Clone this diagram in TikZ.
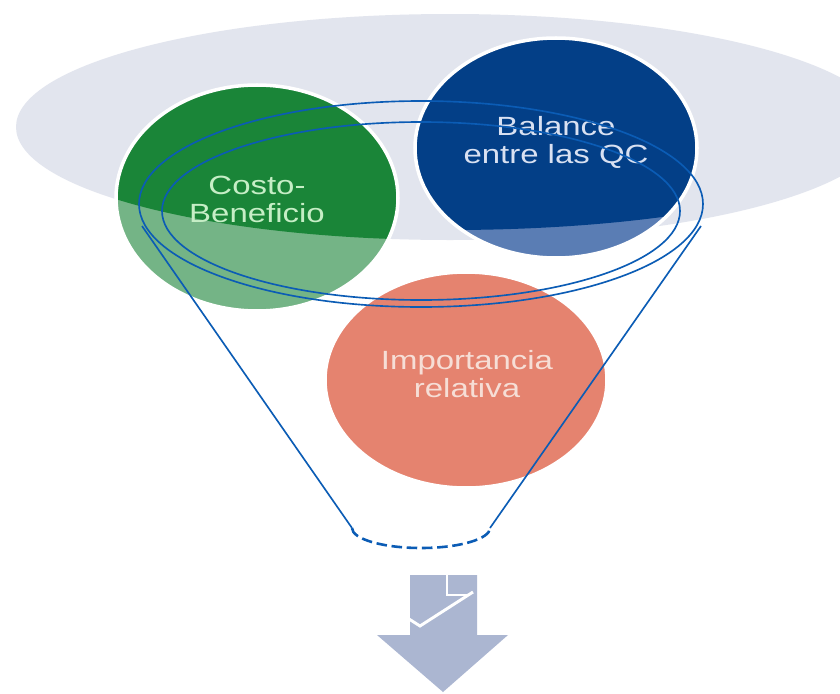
\documentclass[tikz,border=0pt]{standalone}
\usepackage{fontspec}
\newfontfamily\wide[FakeStretch=1.25]{Liberation Sans}
\definecolor{grayell}{HTML}{E2E5EE}
\definecolor{gdark}{HTML}{1A8538}
\definecolor{glight}{HTML}{74B486}
\definecolor{bdark}{HTML}{033F87}
\definecolor{blight}{HTML}{5A7DB4}
\definecolor{salmon}{HTML}{E5836F}
\definecolor{funnel}{HTML}{0B5CB5}
\definecolor{arrowc}{HTML}{ABB6D1}
\definecolor{gtext}{HTML}{C6EEC6}
\definecolor{btext}{HTML}{D9E1F2}
\definecolor{stext}{HTML}{F6DED6}
\tikzset{
  lbl/.style={align=center,font=\wide\fontsize{22.5pt}{24pt}\selectfont,inner sep=0pt},
  rim/.style={draw=white,line width=3pt},
  fun/.style={draw=funnel,line width=1.4pt},
}
\begin{document}
\begin{tikzpicture}[x=0.03cm,y=-0.03cm]
\useasboundingbox (0,0) rectangle (840,693);
\fill[white] (0,0) rectangle (840,693);
% big gray ellipse
\fill[grayell] (450,127) ellipse [x radius=434, y radius=113];
% green circle
\fill[glight] (257,198) ellipse [x radius=141, y radius=113];
\begin{scope}
  \clip (450,127) ellipse [x radius=434, y radius=113];
  \fill[gdark] (257,198) ellipse [x radius=141, y radius=113];
\end{scope}
\draw[rim] (257,198) ellipse [x radius=141, y radius=113];
% blue circle
\fill[blight] (556,148) ellipse [x radius=141, y radius=110];
\begin{scope}
  \clip (450,128) ellipse [x radius=434, y radius=102];
  \fill[bdark] (556,148) ellipse [x radius=141, y radius=110];
\end{scope}
\draw[rim] (556,148) ellipse [x radius=141, y radius=110];
% salmon circle
\fill[salmon] (466,380) ellipse [x radius=141, y radius=108];
\draw[rim] (466,380) ellipse [x radius=141, y radius=108];
% labels
\node[lbl,text=gtext] (cb) at (257,199) {Costo-\\Beneficio};
\node[lbl,text=btext] (bq) at (556,142) {Balance\\entre las QC};
\node[lbl,text=stext] (ir) at (467,374) {Importancia\\relativa};
% funnel
\coordinate (ltop) at (142,226);
\coordinate (rtop) at (701,226);
\coordinate (lbot) at (352,528);
\coordinate (rbot) at (490,528);
\draw[fun] (421,204) ellipse [x radius=282, y radius=103];
\draw[fun] (421,211) ellipse [x radius=259, y radius=89];
\draw[fun] (ltop) -- (lbot);
\draw[fun] (rtop) -- (rbot);
\draw[draw=funnel,line width=2.2pt,dash pattern=on 9pt off 4pt] (lbot) arc [start angle=180, end angle=0, x radius=69, y radius=20];
% arrow
\fill[arrowc] (410,575) -- (477,575) -- (477,635) -- (508,635) -- (443,692) -- (377,635) -- (410,635) -- cycle;
\draw[white,line width=2.5pt] (447,574) -- (447,595) -- (470,595);
\draw[white,line width=2.5pt] (473,592) -- (420,626) -- (409,619);
\end{tikzpicture}
\end{document}
